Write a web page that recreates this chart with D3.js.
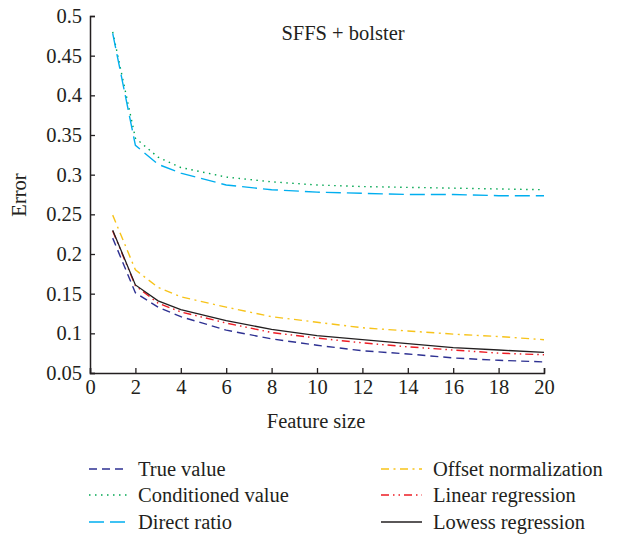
<!DOCTYPE html>
<html>
<head>
<meta charset="utf-8">
<script src="https://cdn.jsdelivr.net/npm/d3@7"></script>
<style>
  body { margin: 0; background: #fff; }
  text { font-family: "Liberation Serif", "DejaVu Serif", serif; fill: #231f20; }
</style>
</head>
<body>
<svg width="622" height="538"></svg>
<script>
var width = 622;
var height = 538;

// feature sizes where values were read
var featureSize = [1, 2, 3, 4, 6, 8, 10, 12, 14, 16, 18, 20];

// error values per method
var trueValue        = [0.220, 0.151, 0.133, 0.121, 0.104, 0.093, 0.085, 0.078, 0.074, 0.069, 0.066, 0.064];
var conditionedValue = [0.480, 0.346, 0.322, 0.309, 0.297, 0.291, 0.287, 0.285, 0.284, 0.283, 0.282, 0.281];
var directRatio      = [0.478, 0.337, 0.313, 0.302, 0.287, 0.281, 0.278, 0.2765, 0.275, 0.275, 0.2735, 0.2735];
var offsetNorm       = [0.249, 0.180, 0.158, 0.146, 0.133, 0.121, 0.114, 0.107, 0.103, 0.099, 0.096, 0.092];
var linearRegression = [0.229, 0.160, 0.138, 0.127, 0.113, 0.101, 0.094, 0.088, 0.083, 0.079, 0.075, 0.073];
var lowessRegression = [0.230, 0.161, 0.141, 0.130, 0.116, 0.105, 0.097, 0.092, 0.087, 0.082, 0.079, 0.076];

var xTicks = [0, 2, 4, 6, 8, 10, 12, 14, 16, 18, 20];
var yTicks = [0.05, 0.1, 0.15, 0.2, 0.25, 0.3, 0.35, 0.4, 0.45, 0.5];

var series = [
  {name: "True value",            values: trueValue,        color: "#2e3192", dash: "8,5"},
  {name: "Conditioned value",     values: conditionedValue, color: "#00a651", dash: "1.5,4.5"},
  {name: "Direct ratio",          values: directRatio,      color: "#00aeef", dash: "15,6"},
  {name: "Offset normalization",  values: offsetNorm,       color: "#f7c31a", dash: "8,4.5,2,4.5"},
  {name: "Linear regression",     values: linearRegression, color: "#ed1c24", dash: "8,4,1.5,4,1.5,4"},
  {name: "Lowess regression",     values: lowessRegression, color: "#231f20", dash: null}
];

var svg = d3.select("svg");

var x = d3.scaleLinear().domain([0, 20]).range([90, 544]);
var y = d3.scaleLinear().domain([0.05, 0.5]).range([373, 16]);

// axes (ticks point inward)
var xAxis = svg.append("g")
    .attr("transform", "translate(0," + y(0.05) + ")")
    .call(d3.axisBottom(x).tickValues(xTicks).tickSize(-5).tickPadding(6).tickFormat(d3.format("d")));
var yAxis = svg.append("g")
    .attr("transform", "translate(" + x(0) + ",0)")
    .call(d3.axisLeft(y).tickValues(yTicks).tickSize(-5).tickPadding(8).tickFormat(function(d) { return String(+d.toFixed(2)); }));

[xAxis, yAxis].forEach(function(a) {
  a.select(".domain").attr("stroke", "#231f20").attr("stroke-width", 1.5);
  a.selectAll(".tick line").attr("stroke", "#231f20").attr("stroke-width", 1.3);
  a.selectAll(".tick text").style("font-family", "Liberation Serif, serif").style("font-size", "20.5px").attr("fill", "#231f20");
});

var line = d3.line()
    .x(function(d, i) { return x(featureSize[i]); })
    .y(function(d) { return y(d); });

series.forEach(function(s) {
  svg.append("path")
    .attr("d", line(s.values))
    .attr("fill", "none")
    .attr("stroke", s.color)
    .attr("stroke-width", s.dash ? 1.4 : 1.3)
    .attr("stroke-dasharray", s.dash);
});

// title and axis labels
svg.append("text")
  .attr("x", 343).attr("y", 40)
  .attr("text-anchor", "middle")
  .style("font-size", "20.5px")
  .text("SFFS + bolster");

svg.append("text")
  .attr("x", 316).attr("y", 428)
  .attr("text-anchor", "middle")
  .style("font-size", "20.5px")
  .text("Feature size");

svg.append("text")
  .attr("transform", "translate(26,195) rotate(-90)")
  .attr("text-anchor", "middle")
  .style("font-size", "20.5px")
  .text("Error");

// legend
var legendPos = [
  {lx: 89, tx: 138, ly: 469, len: 38}, {lx: 89, tx: 138, ly: 495, len: 38}, {lx: 89, tx: 138, ly: 522, len: 38},
  {lx: 381, tx: 433, ly: 469, len: 41}, {lx: 381, tx: 433, ly: 495, len: 41}, {lx: 381, tx: 433, ly: 522, len: 41}
];

series.forEach(function(s, i) {
  var p = legendPos[i];
  svg.append("line")
    .attr("x1", p.lx).attr("x2", p.lx + p.len)
    .attr("y1", p.ly).attr("y2", p.ly)
    .attr("stroke", s.color)
    .attr("stroke-width", 1.4)
    .attr("stroke-dasharray", s.dash);
  svg.append("text")
    .attr("x", p.tx)
    .attr("y", p.ly + 7)
    .style("font-size", "20.5px")
    .text(s.name);
});
</script>
</body>
</html>
